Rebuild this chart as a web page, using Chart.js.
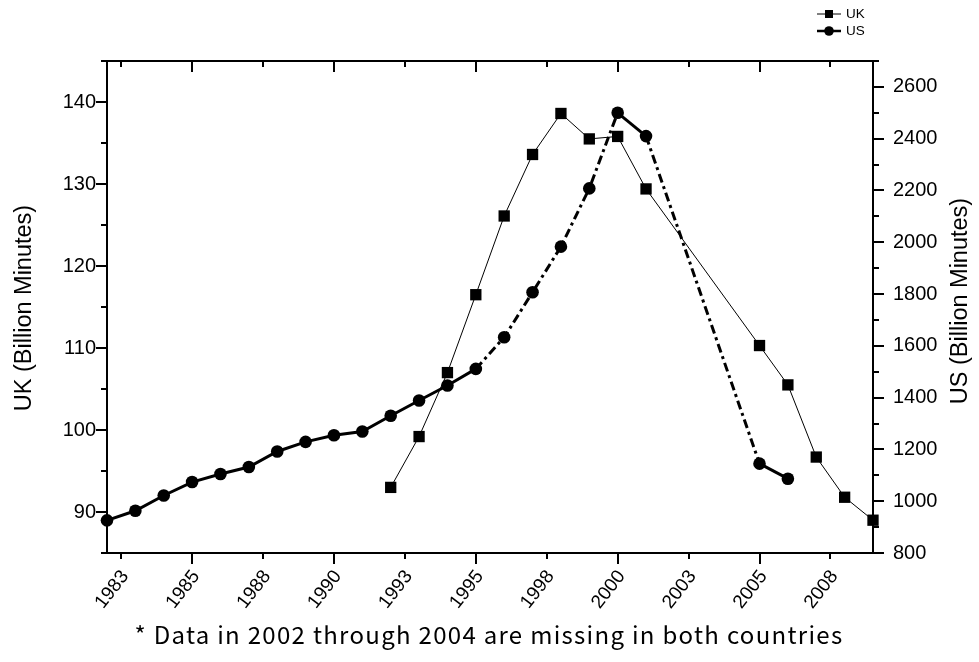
<!DOCTYPE html>
<html>
<head>
<meta charset="utf-8">
<script src="https://cdn.jsdelivr.net/npm/chart.js@4.4.1/dist/chart.umd.min.js"></script>
<style>
  html, body { margin: 0; padding: 0; background: #fff; }
  #wrap { position: relative; width: 979px; height: 662px; }
</style>
</head>
<body>
<div id="wrap"><canvas id="chart" width="979" height="662"></canvas></div>
<script>
// values
const ukYears = [1992, 1993, 1994, 1995, 1996, 1997, 1998, 1999, 2000, 2001, 2005, 2006, 2007, 2008, 2009];
const ukValues = [93.0, 99.2, 107.0, 116.5, 126.1, 133.6, 138.6, 135.5, 135.8, 129.4, 110.3, 105.5, 96.7, 91.8, 89.0];

const usYears = [1982, 1983, 1984, 1985, 1986, 1987, 1988, 1989, 1990, 1991, 1992, 1993, 1994, 1995,
                 1996, 1997, 1998, 1999, 2000, 2001, 2005, 2006];
const usValues = [926, 963, 1022, 1074, 1105, 1132, 1192, 1229, 1255, 1269, 1330, 1389, 1447, 1511,
                  1633, 1807, 1983, 2208, 2500, 2410, 1145, 1087];

// segments of the US line drawn dash-dot (by starting year)
const usDashedFrom = [1995, 1996, 1997, 1998, 1999, 2001];

const xTickValues = [1982.5, 1985, 1987.5, 1990, 1992.5, 1995, 1997.5, 2000, 2002.5, 2005, 2007.5];
const xTickLabels = ['1983', '1985', '1988', '1990', '1993', '1995', '1998', '2000', '2003', '2005', '2008'];
const ukTickValues = [90, 100, 110, 120, 130, 140];
const usTickValues = [800, 1000, 1200, 1400, 1600, 1800, 2000, 2200, 2400, 2600];

const SANS = "'Liberation Sans', Arial, sans-serif";
const GOTHIC = "'Noto Sans CJK JP', sans-serif";

Chart.defaults.font.family = SANS;
Chart.defaults.color = '#000';

const frame = {
  id: 'frame',
  beforeDatasetsDraw(chart) {
    const ctx = chart.ctx;
    const { left, right, top, bottom } = chart.chartArea;
    const x = chart.scales.x, yl = chart.scales.y, yr = chart.scales.y2;
    ctx.save();
    ctx.strokeStyle = '#000';
    ctx.lineWidth = 2;
    ctx.strokeRect(left, top, right - left, bottom - top);
    ctx.beginPath();
    xTickValues.forEach(v => {
      const px = Math.round(x.getPixelForValue(v));
      const len = v % 5 === 0 ? 11 : 6;
      ctx.moveTo(px, bottom); ctx.lineTo(px, bottom + len);
      ctx.moveTo(px, top); ctx.lineTo(px, top + len);
    });
    for (let v = yl.min; v <= yl.max; v += 5) {
      const py = Math.round(yl.getPixelForValue(v));
      const len = ukTickValues.includes(v) ? 11 : 6;
      ctx.moveTo(left, py); ctx.lineTo(left - len, py);
    }
    for (let v = yr.min; v <= yr.max; v += 100) {
      const py = Math.round(yr.getPixelForValue(v));
      const len = usTickValues.includes(v) ? 11 : 6;
      ctx.moveTo(right, py); ctx.lineTo(right + len, py);
    }
    ctx.stroke();
    ctx.restore();
  },
  afterDraw(chart) {
    const ctx = chart.ctx;
    ctx.save();
    ctx.fillStyle = '#000';
    ctx.textBaseline = 'middle';
    ctx.textAlign = 'center';

    // axis titles
    ctx.font = '23.5px ' + SANS;
    ctx.save();
    ctx.translate(25, 308);
    ctx.rotate(-Math.PI / 2);
    ctx.fillText('UK (Billion Minutes)', 0, 0);
    ctx.restore();
    ctx.save();
    ctx.translate(961, 301);
    ctx.rotate(-Math.PI / 2);
    ctx.fillText('US (Billion Minutes)', 0, 0);
    ctx.restore();

    // footnote
    ctx.font = '24px ' + GOTHIC;
    ctx.letterSpacing = '1.3px';
    ctx.fillText('* Data in 2002 through 2004 are missing in both countries', 489, 635);
    ctx.letterSpacing = '0px';

    // legend
    ctx.textAlign = 'left';
    ctx.font = '13.5px ' + SANS;
    ctx.strokeStyle = '#000';
    ctx.lineWidth = 1;
    ctx.beginPath(); ctx.moveTo(817, 14); ctx.lineTo(841, 14); ctx.stroke();
    ctx.fillRect(825, 10, 8, 8);
    ctx.fillText('UK', 846, 14);
    ctx.lineWidth = 2.5;
    ctx.beginPath(); ctx.moveTo(817, 31); ctx.lineTo(841, 31); ctx.stroke();
    ctx.beginPath(); ctx.arc(829, 31, 4.8, 0, Math.PI * 2); ctx.fill();
    ctx.fillText('US', 846, 31);
    ctx.restore();
  }
};

const ukData = ukYears.map((yr, i) => ({ x: yr, y: ukValues[i] }));
const usData = usYears.map((yr, i) => ({ x: yr, y: usValues[i] }));

new Chart(document.getElementById('chart'), {
  type: 'line',
  data: {
    datasets: [
      {
        label: 'UK',
        data: ukData,
        yAxisID: 'y',
        borderColor: '#000',
        backgroundColor: '#000',
        borderWidth: 1,
        pointStyle: 'rect',
        pointRadius: 8,
        pointBorderWidth: 0,
        tension: 0,
        clip: false
      },
      {
        label: 'US',
        data: usData,
        yAxisID: 'y2',
        borderColor: '#000',
        backgroundColor: '#000',
        borderWidth: 3,
        pointStyle: 'circle',
        pointRadius: 6.3,
        pointBorderWidth: 0,
        tension: 0,
        clip: false,
        segment: {
          borderDash: c => usDashedFrom.includes(c.p0.parsed.x) ? [9, 4, 3, 4] : undefined
        }
      }
    ]
  },
  options: {
    responsive: false,
    animation: false,
    events: [],
    layout: { padding: { top: 61, left: 0, right: 0, bottom: 0 } },
    plugins: {
      legend: { display: false },
      tooltip: { enabled: false }
    },
    scales: {
      x: {
        type: 'linear',
        position: 'bottom',
        min: 1982,
        max: 2009,
        afterBuildTicks: s => { s.ticks = xTickValues.map(v => ({ value: v })); },
        afterFit: s => { s.height = 109; },
        grid: { display: false, drawTicks: false },
        border: { display: false },
        ticks: {
          autoSkip: false,
          minRotation: 52,
          maxRotation: 52,
          padding: 13,
          labelOffset: 4,
          color: '#000',
          font: { size: 19, family: SANS },
          callback: (v, i) => xTickLabels[i]
        }
      },
      y: {
        type: 'linear',
        position: 'left',
        min: 85,
        max: 145,
        afterBuildTicks: s => { s.ticks = ukTickValues.map(v => ({ value: v })); },
        afterFit: s => { s.width = 107; },
        grid: { display: false, drawTicks: false },
        border: { display: false },
        ticks: { padding: 11, color: '#000', font: { size: 20, family: SANS }, callback: v => String(v) }
      },
      y2: {
        type: 'linear',
        position: 'right',
        min: 800,
        max: 2700,
        afterBuildTicks: s => { s.ticks = usTickValues.map(v => ({ value: v })); },
        afterFit: s => { s.width = 106; },
        grid: { display: false, drawTicks: false },
        border: { display: false },
        ticks: { padding: 20, color: '#000', font: { size: 20, family: SANS }, callback: v => String(v) }
      }
    }
  },
  plugins: [frame]
});
</script>
</body>
</html>
